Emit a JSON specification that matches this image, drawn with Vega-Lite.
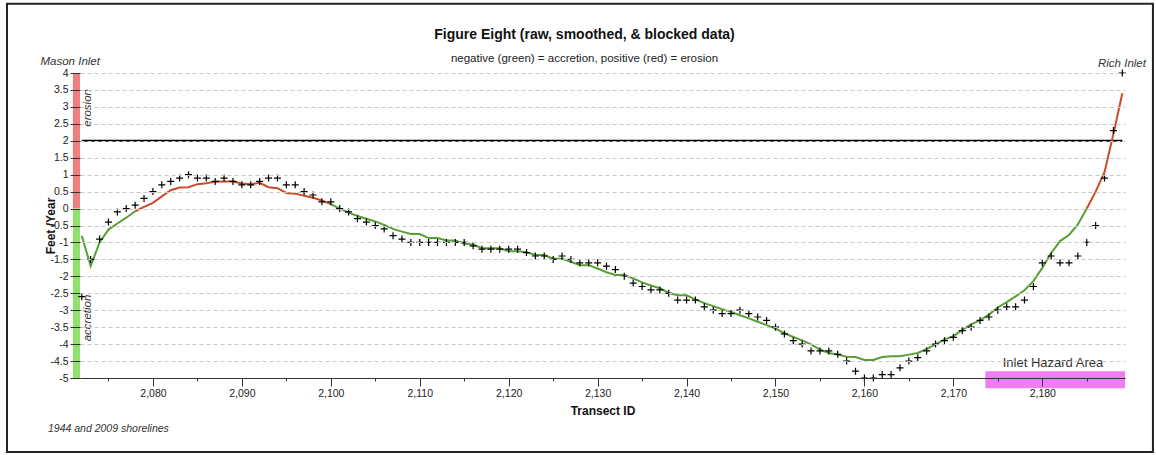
{
  "$schema": "https://vega.github.io/schema/vega-lite/v6.json",
  "width": 1045,
  "height": 305,
  "autosize": {"type": "none"},
  "padding": {"left": 80, "top": 73, "right": 31, "bottom": 77},
  "background": "white",
  "config": {
    "font": "Liberation Sans",
    "view": {"stroke": null}
  },
  "title": {
    "text": "Figure Eight (raw, smoothed, & blocked data)",
    "subtitle": "negative (green) = accretion, positive (red) = erosion",
    "anchor": "middle",
    "frame": "group",
    "dx": -18,
    "offset": -62,
    "font": "Liberation Sans",
    "fontSize": 14,
    "fontWeight": "bold",
    "color": "#111111",
    "subtitleFont": "Liberation Sans",
    "subtitleFontSize": 11.5,
    "subtitleColor": "#222222",
    "subtitlePadding": 11
  },
  "datasets": {
    "raw": [
      {"transect": 2072, "value": -2.6}, {"transect": 2073, "value": -1.5}, {"transect": 2074, "value": -0.9},
      {"transect": 2075, "value": -0.4}, {"transect": 2076, "value": -0.1}, {"transect": 2077, "value": 0.0},
      {"transect": 2078, "value": 0.1}, {"transect": 2079, "value": 0.3}, {"transect": 2080, "value": 0.5},
      {"transect": 2081, "value": 0.7}, {"transect": 2082, "value": 0.8}, {"transect": 2083, "value": 0.9},
      {"transect": 2084, "value": 1.0}, {"transect": 2085, "value": 0.9}, {"transect": 2086, "value": 0.9},
      {"transect": 2087, "value": 0.8}, {"transect": 2088, "value": 0.9}, {"transect": 2089, "value": 0.8},
      {"transect": 2090, "value": 0.7}, {"transect": 2091, "value": 0.7}, {"transect": 2092, "value": 0.8},
      {"transect": 2093, "value": 0.9}, {"transect": 2094, "value": 0.9}, {"transect": 2095, "value": 0.7},
      {"transect": 2096, "value": 0.7}, {"transect": 2097, "value": 0.5}, {"transect": 2098, "value": 0.4},
      {"transect": 2099, "value": 0.2}, {"transect": 2100, "value": 0.2}, {"transect": 2101, "value": 0.0},
      {"transect": 2102, "value": -0.1}, {"transect": 2103, "value": -0.3}, {"transect": 2104, "value": -0.4},
      {"transect": 2105, "value": -0.5}, {"transect": 2106, "value": -0.6}, {"transect": 2107, "value": -0.8},
      {"transect": 2108, "value": -0.9}, {"transect": 2109, "value": -1.0}, {"transect": 2110, "value": -1.0},
      {"transect": 2111, "value": -1.0}, {"transect": 2112, "value": -1.0}, {"transect": 2113, "value": -1.0},
      {"transect": 2114, "value": -1.0}, {"transect": 2115, "value": -1.0}, {"transect": 2116, "value": -1.1},
      {"transect": 2117, "value": -1.2}, {"transect": 2118, "value": -1.2}, {"transect": 2119, "value": -1.2},
      {"transect": 2120, "value": -1.2}, {"transect": 2121, "value": -1.2}, {"transect": 2122, "value": -1.3},
      {"transect": 2123, "value": -1.4}, {"transect": 2124, "value": -1.4}, {"transect": 2125, "value": -1.5},
      {"transect": 2126, "value": -1.4}, {"transect": 2127, "value": -1.5}, {"transect": 2128, "value": -1.6},
      {"transect": 2129, "value": -1.6}, {"transect": 2130, "value": -1.6}, {"transect": 2131, "value": -1.7},
      {"transect": 2132, "value": -1.8}, {"transect": 2133, "value": -2.0}, {"transect": 2134, "value": -2.2},
      {"transect": 2135, "value": -2.3}, {"transect": 2136, "value": -2.4}, {"transect": 2137, "value": -2.4},
      {"transect": 2138, "value": -2.5}, {"transect": 2139, "value": -2.7}, {"transect": 2140, "value": -2.7},
      {"transect": 2141, "value": -2.7}, {"transect": 2142, "value": -2.9}, {"transect": 2143, "value": -3.0},
      {"transect": 2144, "value": -3.1}, {"transect": 2145, "value": -3.1}, {"transect": 2146, "value": -3.0},
      {"transect": 2147, "value": -3.1}, {"transect": 2148, "value": -3.2}, {"transect": 2149, "value": -3.3},
      {"transect": 2150, "value": -3.5}, {"transect": 2151, "value": -3.7}, {"transect": 2152, "value": -3.9},
      {"transect": 2153, "value": -4.0}, {"transect": 2154, "value": -4.2}, {"transect": 2155, "value": -4.2},
      {"transect": 2156, "value": -4.2}, {"transect": 2157, "value": -4.3}, {"transect": 2158, "value": -4.5},
      {"transect": 2159, "value": -4.8}, {"transect": 2160, "value": -5.0}, {"transect": 2161, "value": -5.0},
      {"transect": 2162, "value": -4.9}, {"transect": 2163, "value": -4.9}, {"transect": 2164, "value": -4.7},
      {"transect": 2165, "value": -4.5}, {"transect": 2166, "value": -4.4}, {"transect": 2167, "value": -4.2},
      {"transect": 2168, "value": -4.0}, {"transect": 2169, "value": -3.9}, {"transect": 2170, "value": -3.8},
      {"transect": 2171, "value": -3.6}, {"transect": 2172, "value": -3.5}, {"transect": 2173, "value": -3.3},
      {"transect": 2174, "value": -3.2}, {"transect": 2175, "value": -3.0}, {"transect": 2176, "value": -2.9},
      {"transect": 2177, "value": -2.9}, {"transect": 2178, "value": -2.7}, {"transect": 2179, "value": -2.3},
      {"transect": 2180, "value": -1.6}, {"transect": 2181, "value": -1.4}, {"transect": 2182, "value": -1.6},
      {"transect": 2183, "value": -1.6}, {"transect": 2184, "value": -1.4}, {"transect": 2185, "value": -1.0},
      {"transect": 2186, "value": -0.5}, {"transect": 2187, "value": 0.9}, {"transect": 2188, "value": 2.3},
      {"transect": 2189, "value": 4.0}
    ],
    "smoothed": [
      {"transect": 2072, "value": -0.8, "trend": "accretion", "segment": 1},
      {"transect": 2073, "value": -1.7, "trend": "accretion", "segment": 1},
      {"transect": 2074, "value": -1.0, "trend": "accretion", "segment": 1},
      {"transect": 2075, "value": -0.62, "trend": "accretion", "segment": 1},
      {"transect": 2076, "value": -0.44, "trend": "accretion", "segment": 1},
      {"transect": 2077, "value": -0.27, "trend": "accretion", "segment": 1},
      {"transect": 2078, "value": -0.08, "trend": "accretion", "segment": 1},
      {"transect": 2078, "value": -0.08, "trend": "erosion", "segment": 2},
      {"transect": 2079, "value": 0.05, "trend": "erosion", "segment": 2},
      {"transect": 2080, "value": 0.17, "trend": "erosion", "segment": 2},
      {"transect": 2081, "value": 0.36, "trend": "erosion", "segment": 2},
      {"transect": 2082, "value": 0.54, "trend": "erosion", "segment": 2},
      {"transect": 2083, "value": 0.62, "trend": "erosion", "segment": 2},
      {"transect": 2084, "value": 0.63, "trend": "erosion", "segment": 2},
      {"transect": 2085, "value": 0.72, "trend": "erosion", "segment": 2},
      {"transect": 2086, "value": 0.75, "trend": "erosion", "segment": 2},
      {"transect": 2087, "value": 0.79, "trend": "erosion", "segment": 2},
      {"transect": 2088, "value": 0.8, "trend": "erosion", "segment": 2},
      {"transect": 2089, "value": 0.8, "trend": "erosion", "segment": 2},
      {"transect": 2090, "value": 0.74, "trend": "erosion", "segment": 2},
      {"transect": 2091, "value": 0.72, "trend": "erosion", "segment": 2},
      {"transect": 2092, "value": 0.76, "trend": "erosion", "segment": 2},
      {"transect": 2093, "value": 0.63, "trend": "erosion", "segment": 2},
      {"transect": 2094, "value": 0.6, "trend": "erosion", "segment": 2},
      {"transect": 2095, "value": 0.46, "trend": "erosion", "segment": 2},
      {"transect": 2096, "value": 0.44, "trend": "erosion", "segment": 2},
      {"transect": 2097, "value": 0.38, "trend": "erosion", "segment": 2},
      {"transect": 2098, "value": 0.32, "trend": "erosion", "segment": 2},
      {"transect": 2099, "value": 0.24, "trend": "erosion", "segment": 2},
      {"transect": 2100, "value": 0.13, "trend": "erosion", "segment": 2},
      {"transect": 2100, "value": 0.13, "trend": "accretion", "segment": 3},
      {"transect": 2101, "value": 0.0, "trend": "accretion", "segment": 3},
      {"transect": 2102, "value": -0.12, "trend": "accretion", "segment": 3},
      {"transect": 2103, "value": -0.22, "trend": "accretion", "segment": 3},
      {"transect": 2104, "value": -0.3, "trend": "accretion", "segment": 3},
      {"transect": 2105, "value": -0.38, "trend": "accretion", "segment": 3},
      {"transect": 2106, "value": -0.48, "trend": "accretion", "segment": 3},
      {"transect": 2107, "value": -0.6, "trend": "accretion", "segment": 3},
      {"transect": 2108, "value": -0.68, "trend": "accretion", "segment": 3},
      {"transect": 2109, "value": -0.75, "trend": "accretion", "segment": 3},
      {"transect": 2110, "value": -0.75, "trend": "accretion", "segment": 3},
      {"transect": 2111, "value": -0.87, "trend": "accretion", "segment": 3},
      {"transect": 2112, "value": -0.87, "trend": "accretion", "segment": 3},
      {"transect": 2113, "value": -0.94, "trend": "accretion", "segment": 3},
      {"transect": 2114, "value": -0.94, "trend": "accretion", "segment": 3},
      {"transect": 2115, "value": -1.04, "trend": "accretion", "segment": 3},
      {"transect": 2116, "value": -1.06, "trend": "accretion", "segment": 3},
      {"transect": 2117, "value": -1.17, "trend": "accretion", "segment": 3},
      {"transect": 2118, "value": -1.17, "trend": "accretion", "segment": 3},
      {"transect": 2119, "value": -1.17, "trend": "accretion", "segment": 3},
      {"transect": 2120, "value": -1.26, "trend": "accretion", "segment": 3},
      {"transect": 2121, "value": -1.26, "trend": "accretion", "segment": 3},
      {"transect": 2122, "value": -1.29, "trend": "accretion", "segment": 3},
      {"transect": 2123, "value": -1.37, "trend": "accretion", "segment": 3},
      {"transect": 2124, "value": -1.37, "trend": "accretion", "segment": 3},
      {"transect": 2125, "value": -1.48, "trend": "accretion", "segment": 3},
      {"transect": 2126, "value": -1.48, "trend": "accretion", "segment": 3},
      {"transect": 2127, "value": -1.57, "trend": "accretion", "segment": 3},
      {"transect": 2128, "value": -1.67, "trend": "accretion", "segment": 3},
      {"transect": 2129, "value": -1.67, "trend": "accretion", "segment": 3},
      {"transect": 2130, "value": -1.77, "trend": "accretion", "segment": 3},
      {"transect": 2131, "value": -1.88, "trend": "accretion", "segment": 3},
      {"transect": 2132, "value": -1.96, "trend": "accretion", "segment": 3},
      {"transect": 2133, "value": -1.96, "trend": "accretion", "segment": 3},
      {"transect": 2134, "value": -2.06, "trend": "accretion", "segment": 3},
      {"transect": 2135, "value": -2.18, "trend": "accretion", "segment": 3},
      {"transect": 2136, "value": -2.27, "trend": "accretion", "segment": 3},
      {"transect": 2137, "value": -2.35, "trend": "accretion", "segment": 3},
      {"transect": 2138, "value": -2.49, "trend": "accretion", "segment": 3},
      {"transect": 2139, "value": -2.56, "trend": "accretion", "segment": 3},
      {"transect": 2140, "value": -2.56, "trend": "accretion", "segment": 3},
      {"transect": 2141, "value": -2.68, "trend": "accretion", "segment": 3},
      {"transect": 2142, "value": -2.79, "trend": "accretion", "segment": 3},
      {"transect": 2143, "value": -2.88, "trend": "accretion", "segment": 3},
      {"transect": 2144, "value": -2.97, "trend": "accretion", "segment": 3},
      {"transect": 2145, "value": -3.05, "trend": "accretion", "segment": 3},
      {"transect": 2146, "value": -3.15, "trend": "accretion", "segment": 3},
      {"transect": 2147, "value": -3.24, "trend": "accretion", "segment": 3},
      {"transect": 2148, "value": -3.34, "trend": "accretion", "segment": 3},
      {"transect": 2149, "value": -3.44, "trend": "accretion", "segment": 3},
      {"transect": 2150, "value": -3.54, "trend": "accretion", "segment": 3},
      {"transect": 2151, "value": -3.68, "trend": "accretion", "segment": 3},
      {"transect": 2152, "value": -3.79, "trend": "accretion", "segment": 3},
      {"transect": 2153, "value": -3.89, "trend": "accretion", "segment": 3},
      {"transect": 2154, "value": -4.01, "trend": "accretion", "segment": 3},
      {"transect": 2155, "value": -4.16, "trend": "accretion", "segment": 3},
      {"transect": 2156, "value": -4.26, "trend": "accretion", "segment": 3},
      {"transect": 2157, "value": -4.31, "trend": "accretion", "segment": 3},
      {"transect": 2158, "value": -4.37, "trend": "accretion", "segment": 3},
      {"transect": 2159, "value": -4.38, "trend": "accretion", "segment": 3},
      {"transect": 2160, "value": -4.47, "trend": "accretion", "segment": 3},
      {"transect": 2161, "value": -4.47, "trend": "accretion", "segment": 3},
      {"transect": 2162, "value": -4.38, "trend": "accretion", "segment": 3},
      {"transect": 2163, "value": -4.36, "trend": "accretion", "segment": 3},
      {"transect": 2164, "value": -4.36, "trend": "accretion", "segment": 3},
      {"transect": 2165, "value": -4.31, "trend": "accretion", "segment": 3},
      {"transect": 2166, "value": -4.26, "trend": "accretion", "segment": 3},
      {"transect": 2167, "value": -4.14, "trend": "accretion", "segment": 3},
      {"transect": 2168, "value": -4.01, "trend": "accretion", "segment": 3},
      {"transect": 2169, "value": -3.86, "trend": "accretion", "segment": 3},
      {"transect": 2170, "value": -3.77, "trend": "accretion", "segment": 3},
      {"transect": 2171, "value": -3.58, "trend": "accretion", "segment": 3},
      {"transect": 2172, "value": -3.42, "trend": "accretion", "segment": 3},
      {"transect": 2173, "value": -3.3, "trend": "accretion", "segment": 3},
      {"transect": 2174, "value": -3.13, "trend": "accretion", "segment": 3},
      {"transect": 2175, "value": -2.92, "trend": "accretion", "segment": 3},
      {"transect": 2176, "value": -2.76, "trend": "accretion", "segment": 3},
      {"transect": 2177, "value": -2.59, "trend": "accretion", "segment": 3},
      {"transect": 2178, "value": -2.41, "trend": "accretion", "segment": 3},
      {"transect": 2179, "value": -2.14, "trend": "accretion", "segment": 3},
      {"transect": 2180, "value": -1.75, "trend": "accretion", "segment": 3},
      {"transect": 2181, "value": -1.31, "trend": "accretion", "segment": 3},
      {"transect": 2182, "value": -0.96, "trend": "accretion", "segment": 3},
      {"transect": 2183, "value": -0.78, "trend": "accretion", "segment": 3},
      {"transect": 2184, "value": -0.47, "trend": "accretion", "segment": 3},
      {"transect": 2185, "value": 0.0, "trend": "accretion", "segment": 3},
      {"transect": 2185, "value": 0.0, "trend": "erosion", "segment": 4},
      {"transect": 2186, "value": 0.5, "trend": "erosion", "segment": 4},
      {"transect": 2187, "value": 1.08, "trend": "erosion", "segment": 4},
      {"transect": 2188, "value": 2.2, "trend": "erosion", "segment": 4},
      {"transect": 2189, "value": 3.4, "trend": "erosion", "segment": 4}
    ],
    "zones": [
      {"zone": "erosion", "lo": 0, "hi": 4},
      {"zone": "accretion", "lo": -5, "hi": 0}
    ],
    "hazard": [
      {"zone": "Inlet Hazard Area", "start": 2173.6, "end": 2189.3, "lo": -5.3, "hi": -4.8}
    ]
  },
  "layer": [
    {
      "data": {"values": [{"frame": "chart border"}]},
      "mark": {"type": "rect", "filled": false, "color": "#222222", "strokeWidth": 2, "clip": false},
      "encoding": {
        "x": {"datum": 2063.59, "type": "quantitative"},
        "x2": {"datum": 2192.44},
        "y": {"datum": 6.04, "type": "quantitative"},
        "y2": {"datum": -7.18}
      }
    },
    {
      "data": {"name": "zones"},
      "mark": {"type": "rect", "clip": false},
      "encoding": {
        "x": {"datum": 2071.0, "type": "quantitative"},
        "x2": {"datum": 2071.8},
        "y": {"field": "hi", "type": "quantitative"},
        "y2": {"field": "lo"},
        "color": {"condition": {"test": "datum.zone === 'erosion'", "value": "#f08080"}, "value": "#92e06e"}
      }
    },
    {
      "data": {"name": "hazard"},
      "mark": {"type": "rect", "color": "#f27cf2", "clip": false},
      "encoding": {
        "x": {"field": "start", "type": "quantitative"},
        "x2": {"field": "end"},
        "y": {"field": "hi", "type": "quantitative"},
        "y2": {"field": "lo"}
      }
    },
    {
      "data": {"values": [{"threshold": 2}]},
      "mark": {"type": "rule", "color": "black", "strokeWidth": 2},
      "encoding": {
        "x": {"datum": 2072, "type": "quantitative"},
        "x2": {"datum": 2189},
        "y": {"field": "threshold", "type": "quantitative"}
      }
    },
    {
      "data": {"name": "smoothed"},
      "mark": {"type": "line", "strokeWidth": 2},
      "encoding": {
        "x": {
          "field": "transect", "type": "quantitative",
          "scale": {"domain": [2071.8, 2189.3], "nice": false, "zero": false},
          "axis": {
            "title": "Transect ID",
            "titleFontSize": 12, "titleFontWeight": "bold", "titleColor": "#111111",
            "titleY": 32, "titleBaseline": "middle",
            "values": [2075, 2080, 2085, 2090, 2095, 2100, 2105, 2110, 2115, 2120, 2125, 2130, 2135, 2140, 2145, 2150, 2155, 2160, 2165, 2170, 2175, 2180, 2185],
            "tickCount": 200,
            "labelExpr": "datum.value % 10 === 0 ? format(datum.value, ',') : ''",
            "tickSize": {"condition": {"test": "datum.value % 10 === 0", "value": 8}, "value": 3},
            "labelPadding": 2,
            "labelFontSize": 10.5, "labelColor": "#222222",
            "labelFlush": false, "labelOverlap": false,
            "grid": false,
            "domainColor": "#333333", "tickColor": "#333333",
            "zindex": 1
          }
        },
        "y": {
          "field": "value", "type": "quantitative",
          "scale": {"domain": [-5, 4], "nice": false, "zero": false},
          "axis": {
            "title": "Feet /Year",
            "titleFontSize": 12, "titleFontWeight": "bold", "titleColor": "#111111",
            "titleX": -30, "titleY": 152.5, "titleAngle": 270, "titleBaseline": "middle", "titleAlign": "center",
            "values": [-5, -4.5, -4, -3.5, -3, -2.5, -2, -1.5, -1, -0.5, 0, 0.5, 1, 1.5, 2, 2.5, 3, 3.5, 4],
            "tickCount": 200,
            "labelExpr": "'' + datum.value",
            "labelFontSize": 10.5, "labelColor": "#222222", "labelPadding": 2,
            "labelOverlap": false,
            "tickSize": 10, "tickColor": "#333333",
            "domain": false,
            "grid": true, "gridColor": "#c8c8c8", "gridDash": [4, 3], "gridWidth": 1,
            "zindex": 1
          }
        },
        "color": {
          "field": "trend", "type": "nominal",
          "scale": {"domain": ["accretion", "erosion"], "range": ["#58a032", "#cc4a28"]},
          "legend": null
        },
        "detail": {"field": "segment", "type": "nominal"}
      }
    },
    {
      "data": {"name": "raw"},
      "mark": {"type": "point", "shape": "M-1,0H1M0,-1V1", "size": 49, "filled": false, "color": "black", "strokeWidth": 1.2, "opacity": 1},
      "encoding": {
        "x": {"field": "transect", "type": "quantitative"},
        "y": {"field": "value", "type": "quantitative"}
      }
    },
    {
      "data": {"values": [{"text": "Mason Inlet"}]},
      "mark": {"type": "text", "font": "Liberation Sans", "fontSize": 11.5, "fontStyle": "italic", "color": "#333333", "align": "center", "baseline": "middle", "clip": false},
      "encoding": {
        "x": {"datum": 2070.7, "type": "quantitative"},
        "y": {"datum": 4.33, "type": "quantitative"},
        "text": {"field": "text"}
      }
    },
    {
      "data": {"values": [{"text": "Rich Inlet"}]},
      "mark": {"type": "text", "font": "Liberation Sans", "fontSize": 11.5, "fontStyle": "italic", "color": "#333333", "align": "center", "baseline": "middle", "clip": false},
      "encoding": {
        "x": {"datum": 2188.96, "type": "quantitative"},
        "y": {"datum": 4.27, "type": "quantitative"},
        "text": {"field": "text"}
      }
    },
    {
      "data": {"values": [{"text": "erosion"}]},
      "mark": {"type": "text", "font": "Liberation Sans", "fontSize": 11.5, "fontStyle": "italic", "color": "#333333", "align": "center", "baseline": "middle", "angle": 270, "clip": false},
      "encoding": {
        "x": {"datum": 2072.7, "type": "quantitative"},
        "y": {"datum": 2.97, "type": "quantitative"},
        "text": {"field": "text"}
      }
    },
    {
      "data": {"values": [{"text": "accretion"}]},
      "mark": {"type": "text", "font": "Liberation Sans", "fontSize": 11.5, "fontStyle": "italic", "color": "#333333", "align": "center", "baseline": "middle", "angle": 270, "clip": false},
      "encoding": {
        "x": {"datum": 2072.7, "type": "quantitative"},
        "y": {"datum": -3.23, "type": "quantitative"},
        "text": {"field": "text"}
      }
    },
    {
      "data": {"values": [{"text": "1944 and 2009 shorelines"}]},
      "mark": {"type": "text", "font": "Liberation Sans", "fontSize": 10.5, "fontStyle": "italic", "color": "#333333", "align": "left", "baseline": "middle", "clip": false},
      "encoding": {
        "x": {"datum": 2068.2, "type": "quantitative"},
        "y": {"datum": -6.5, "type": "quantitative"},
        "text": {"field": "text"}
      }
    },
    {
      "data": {"name": "hazard"},
      "mark": {"type": "text", "font": "Liberation Sans", "fontSize": 13, "color": "#333333", "align": "center", "baseline": "middle", "clip": false},
      "encoding": {
        "x": {"datum": 2181.2, "type": "quantitative"},
        "y": {"datum": -4.56, "type": "quantitative"},
        "text": {"field": "zone"}
      }
    }
  ]
}
